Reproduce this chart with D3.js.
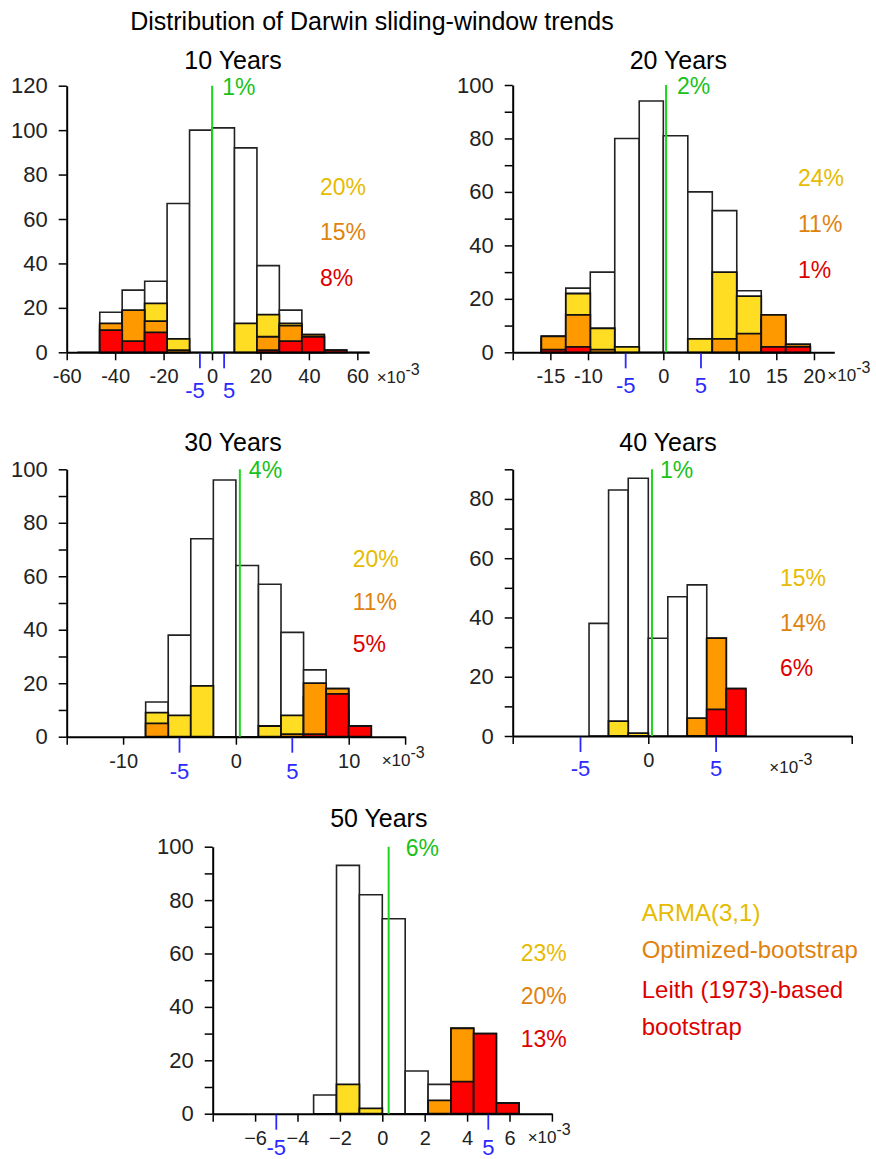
<!DOCTYPE html>
<html>
<head>
<meta charset="utf-8">
<script src="https://cdn.jsdelivr.net/npm/d3@7"></script>
<style>
  body { margin: 0; background: #fff; }
  svg { display: block; font-family: "Liberation Sans", Arial, sans-serif; }
</style>
</head>
<body>
<div id="chart"></div>
<script>
// Bin edges are in units of 1e-3; counts.
// Layers are drawn from zero, one over the other (white, ARMA, bootstrap, Leith).

const edges10 = [-55.6, -46.35, -37.1, -27.8, -18.55, -9.27, 0, 9.27, 18.55, 27.8, 37.1, 46.35, 55.6, 64.9];
const total10 = [0, 18, 28, 32, 67, 100, 101, 92, 39, 19, 8, 1, 0];
const arma10  = [0, 12, 18, 22, 6, 0, 0, 13, 17, 13, 7, 0, 0];
const boot10  = [0, 13, 19, 14, 1, 0, 0, 0, 7, 12, 8, 0, 0];
const leith10 = [0, 10, 5, 9, 0, 0, 0, 0, 1, 5, 7, 1, 0];

const edges20 = [-16.2, -12.95, -9.7, -6.45, -3.2, 0, 3.25, 6.5, 9.75, 13.0, 16.25, 19.5];
const total20 = [6, 24, 30, 80, 94, 81, 60, 53, 23, 14, 3];
const arma20  = [5, 22, 9, 2, 0, 0, 5, 30, 21, 12, 2];
const boot20  = [6, 14, 1, 0, 0, 0, 0, 5, 7, 14, 3];
const leith20 = [1, 2, 0, 0, 0, 0, 0, 0, 0, 2, 2];

const edges30 = [-8, -6, -4, -2, 0, 2, 4, 6, 8, 10, 12];
const total30 = [13, 38, 74, 96, 64, 57, 39, 25, 18, 4];
const arma30  = [9, 8, 19, 0, 0, 4, 8, 15, 10, 0];
const boot30  = [5, 0, 0, 0, 0, 0, 1, 20, 18, 0];
const leith30 = [0, 0, 0, 0, 0, 0, 0, 1, 16, 4];

const edges40 = [-4.37, -2.93, -1.48, 0, 1.44, 2.87, 4.31, 5.75, 7.19];
const total40 = [38, 83, 87, 33, 47, 51, 33, 16];
const arma40  = [0, 5, 1, 0, 0, 0, 0, 0];
const boot40  = [0, 0, 0, 0, 0, 6, 33, 0];
const leith40 = [0, 0, 0, 0, 0, 0, 9, 16];

const edges50 = [-3.24, -2.16, -1.08, 0, 1.08, 2.16, 3.24, 4.31, 5.38, 6.45];
const total50 = [7, 93, 82, 73, 16, 11, 32, 30, 4];
const arma50  = [0, 11, 2, 0, 0, 0, 0, 0, 0];
const boot50  = [0, 0, 0, 0, 0, 5, 32, 0, 0];
const leith50 = [0, 0, 0, 0, 0, 0, 12, 30, 4];

const titles = ["10 Years", "20 Years", "30 Years", "40 Years", "50 Years"];
const observed = [0.05, 0.36, 0.35, 0.27, 0.3];
const observedPct = ["1%", "2%", "4%", "1%", "6%"];
const armaPct = ["20%", "24%", "20%", "15%", "23%"];
const bootPct = ["15%", "11%", "11%", "14%", "20%"];
const leithPct = ["8%", "1%", "5%", "6%", "13%"];

const xTicks10 = [-60, -40, -20, 0, 20, 40, 60];
const xLabels10 = [-60, -40, -20, 0, 20, 40, 60];
const xTicks20 = [-20, -15, -10, 0, 10, 15, 20];
const xLabels20 = [-15, -10, 0, 10, 15, 20];
const xTicks30 = [-15, -10, 0, 10, 15];
const xLabels30 = [-10, 0, 10];
const xTicks40 = [-10, 0, 15];
const xLabels40 = [0];
const xTicks50 = [-8, -6, -4, -2, 0, 2, 4, 6, 8];
const xLabels50 = [-6, -4, -2, 0, 2, 4, 6];

const yTicks10 = [0, 20, 40, 60, 80, 100, 120];
const yMinor10 = [];
const yTicks100 = [0, 20, 40, 60, 80, 100];
const yMinor100 = [10, 30, 50, 70, 90];
const yTicks40 = [0, 20, 40, 60, 80];
const yMinor40 = [10, 30, 50, 70, 90];

const blueTicks = [-5, 5];
const legendLabels = ["ARMA(3,1)", "Optimized-bootstrap", "Leith (1973)-based", "bootstrap"];

const fills = ['#fff', '#ffdd22', '#ff9900', '#ff0000'];
const textColors = ['#e6bb00', '#e0820e', '#dd0000'];
const green = '#1ed61e';
const blue = '#2a2aff';

const panels = [
  {edges: edges10, layers: [total10, arma10, boot10, leith10], xTicks: xTicks10, xLabels: xLabels10, yTicks: yTicks10, yMinor: yMinor10,
   xr: [66.7, 369.2], xd: [-60, 64.9], yr: [352.3, 85.7], yd: [0, 120], title: [233, 60], obsDx: 10,
   pct: [320, 186.7, 45.6], exp: [376.7, 383.3], blueDy: 38, blueNudge: 5, fmt: d => String(d)},
  {edges: edges20, layers: [total20, arma20, boot20, leith20], xTicks: xTicks20, xLabels: xLabels20, yTicks: yTicks100, yMinor: yMinor100,
   xr: [512.7, 834.3], xd: [-20, 22.7], yr: [352.3, 85], yd: [0, 100], title: [678.3, 60], obsDx: 11,
   pct: [798, 178, 46], exp: [827.3, 380.7], blueDy: 33, blueNudge: 0, fmt: d => String(d)},
  {edges: edges30, layers: [total30, arma30, boot30, leith30], xTicks: xTicks30, xLabels: xLabels30, yTicks: yTicks100, yMinor: yMinor100,
   xr: [66.7, 405.1], xd: [-15, 15], yr: [736.7, 469.3], yd: [0, 100], title: [233, 442], obsDx: 9,
   pct: [352.7, 559.3, 42.4], exp: [381.7, 766], blueDy: 34, blueNudge: 0, fmt: d => String(d)},
  {edges: edges40, layers: [total40, arma40, boot40, leith40], xTicks: xTicks40, xLabels: xLabels40, yTicks: yTicks40, yMinor: yMinor40,
   xr: [512.7, 851.7], xd: [-10, 15], yr: [736, 469.3], yd: [0, 90], title: [668, 442], obsDx: 8,
   pct: [780, 578.3, 44.7], exp: [769.3, 773], blueDy: 32, blueNudge: 0, fmt: d => String(d)},
  {edges: edges50, layers: [total50, arma50, boot50, leith50], xTicks: xTicks50, xLabels: xLabels50, yTicks: yTicks100, yMinor: yMinor100,
   xr: [212.7, 551.9], xd: [-8, 8], yr: [1113.7, 846.7], yd: [0, 100], title: [378.8, 817.5], obsDx: 17,
   pct: [520.7, 953.3, 43], exp: [527.7, 1143], blueDy: 33, blueNudge: 0, fmt: d3.format('d')},
];

const width = 876, height = 1159;

const svg = d3.select('#chart').append('svg')
  .attr('width', width)
  .attr('height', height)
  .attr('viewBox', `0 0 ${width} ${height}`);

svg.append('text')
  .attr('x', 372).attr('y', 30)
  .attr('text-anchor', 'middle')
  .attr('font-size', 25)
  .text('Distribution of Darwin sliding-window trends');

panels.forEach((p, k) => {
  const x = d3.scaleLinear().domain(p.xd).range(p.xr);
  const y = d3.scaleLinear().domain(p.yd).range(p.yr);
  const g = svg.append('g');

  // bars: white total first, then the three null models over it
  p.layers.forEach((vals, li) => {
    const bars = vals.map((v, i) => ({x0: p.edges[i], x1: p.edges[i + 1], v}))
      .filter(d => li === 0 || d.v > 0);
    g.append('g')
      .selectAll('path')
      .data(bars)
      .join('path')
        .attr('d', d => `M${x(d.x0)},${y(0)}V${y(d.v)}H${x(d.x1)}V${y(0)}Z`)
        .attr('fill', fills[li])
        .attr('stroke', li === 0 ? '#222' : '#111')
        .attr('stroke-width', li === 0 ? 1.6 : 1.8);
  });

  // y axis
  g.append('g')
    .attr('transform', `translate(${p.xr[0]},0)`)
    .call(d3.axisLeft(y).tickValues(p.yTicks).tickSize(8).tickSizeOuter(0).tickPadding(11))
    .call(a => a.select('.domain').attr('stroke-width', 2))
    .call(a => a.selectAll('.tick line').attr('stroke-width', 1.5))
    .call(a => a.selectAll('.tick text').attr('font-size', 22).attr('fill', '#222').attr('font-family', null));

  if (p.yMinor.length) {
    g.append('g')
      .attr('transform', `translate(${p.xr[0]},0)`)
      .call(d3.axisLeft(y).tickValues(p.yMinor).tickSize(8).tickSizeOuter(0).tickFormat(''))
      .call(a => a.select('.domain').remove())
      .call(a => a.selectAll('.tick line').attr('stroke-width', 1.5));
  }

  // x axis
  g.append('g')
    .attr('transform', `translate(0,${p.yr[0]})`)
    .call(d3.axisBottom(x).tickValues(p.xTicks).tickSize(8).tickSizeOuter(0).tickPadding(9)
      .tickFormat(d => p.xLabels.includes(d) ? p.fmt(d) : ''))
    .call(a => a.select('.domain').attr('stroke-width', 2))
    .call(a => a.selectAll('.tick line').attr('stroke-width', 1.5))
    .call(a => a.selectAll('.tick text').attr('font-size', 20).attr('fill', '#222').attr('font-family', null));

  // blue +-5 markers
  g.append('g')
    .selectAll('line')
    .data(blueTicks)
    .join('line')
      .attr('x1', d => x(d)).attr('x2', d => x(d))
      .attr('y1', p.yr[0] + 1).attr('y2', p.yr[0] + 16)
      .attr('stroke', blue).attr('stroke-width', 1.8);

  g.append('g')
    .selectAll('text')
    .data(blueTicks)
    .join('text')
      .attr('x', d => x(d) + Math.sign(d) * p.blueNudge)
      .attr('y', p.yr[0] + p.blueDy + 8)
      .attr('text-anchor', 'middle')
      .attr('font-size', 22)
      .attr('fill', blue)
      .text(d => String(d));

  // x10^-3
  const e = g.append('text')
    .attr('x', p.exp[0]).attr('y', p.exp[1])
    .attr('font-size', 17)
    .attr('fill', '#222');
  e.append('tspan').text('×10');
  e.append('tspan').attr('dy', -8).attr('font-size', 16).text('-3');

  // observed trend
  g.append('line')
    .attr('x1', x(observed[k])).attr('x2', x(observed[k]))
    .attr('y1', y(0)).attr('y2', y(p.yd[1]))
    .attr('stroke', green).attr('stroke-width', 2);

  g.append('text')
    .attr('x', x(observed[k]) + p.obsDx)
    .attr('y', p.yr[1] + 9)
    .attr('font-size', 23)
    .attr('fill', '#19c219')
    .text(observedPct[k]);

  [armaPct[k], bootPct[k], leithPct[k]].forEach((t, i) => {
    g.append('text')
      .attr('x', p.pct[0])
      .attr('y', p.pct[1] + i * p.pct[2] + 8)
      .attr('font-size', 23)
      .attr('fill', textColors[i])
      .text(t);
  });

  g.append('text')
    .attr('x', p.title[0]).attr('y', p.title[1] + 9)
    .attr('text-anchor', 'middle')
    .attr('font-size', 25)
    .text(titles[k]);
});

// legend
const legendColors = [textColors[0], textColors[1], textColors[2], textColors[2]];
const legendY = [913.3, 950, 990, 1026.7];
svg.append('g')
  .selectAll('text')
  .data(legendLabels)
  .join('text')
    .attr('x', 641.7)
    .attr('y', (d, i) => legendY[i] + 8)
    .attr('font-size', 24)
    .attr('fill', (d, i) => legendColors[i])
    .text(d => d);
</script>
</body>
</html>
